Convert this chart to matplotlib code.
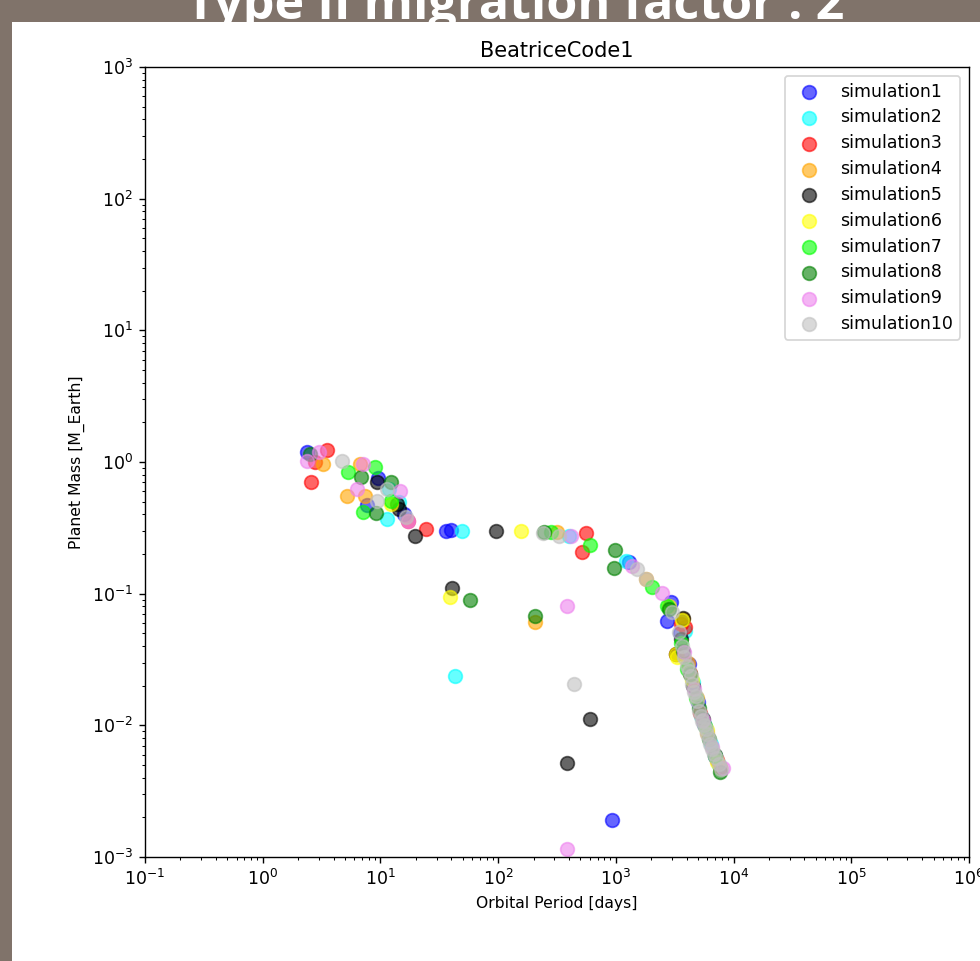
import matplotlib
matplotlib.use("Agg")
import matplotlib.pyplot as plt
from matplotlib.patches import Rectangle

# ---------------- data ----------------
labels = ["simulation1", "simulation2", "simulation3", "simulation4", "simulation5",
          "simulation6", "simulation7", "simulation8", "simulation9", "simulation10"]
colors = ["blue", "cyan", "red", "orange", "black",
          "yellow", "lime", "green", "violet", "silver"]

period_sim1 = [2.36, 9.45, 7.62, 16.0, 36.4, 40.1, 931, 1297, 2944, 2723,
               3500, 4186, 5000, 5610, 7000]
mass_sim1 = [1.19, 0.756, 0.472, 0.403, 0.30, 0.305, 0.00192, 0.174, 0.0867, 0.0622,
             0.050, 0.0293, 0.0150, 0.0103, 0.0058]

period_sim2 = [49.7, 43.4, 1223, 11.9, 14.5, 402, 11.3,
               3870, 4500, 5300, 6400, 7500]
mass_sim2 = [0.30, 0.0238, 0.177, 0.624, 0.497, 0.275, 0.37,
             0.0522, 0.0215, 0.0118, 0.0072, 0.0050]

period_sim3 = [3.49, 2.55, 2.76, 24.6, 560, 518, 3580, 17.0,
               3870, 3245, 4300, 5200, 7200]
mass_sim3 = [1.23, 0.705, 1.0, 0.31, 0.289, 0.208, 0.059, 0.357,
             0.056, 0.0349, 0.0250, 0.0125, 0.0055]

period_sim4 = [3.23, 5.16, 6.65, 7.33, 207, 318, 1807,
               3724, 4100, 4900, 6000, 7600]
mass_sim4 = [0.966, 0.552, 0.966, 0.552, 0.0611, 0.294, 0.129,
             0.0644, 0.0300, 0.0160, 0.0088, 0.0048]

period_sim5 = [9.27, 13.7, 14.5, 19.5, 96.5, 40.9, 386, 605,
               3245, 3724, 3600, 4500, 5500, 6900]
mass_sim5 = [0.705, 0.48, 0.44, 0.275, 0.30, 0.111, 0.0052, 0.0112,
             0.0349, 0.065, 0.045, 0.0200, 0.0112, 0.0060]

period_sim6 = [157, 39.3, 12.4, 2831,
               3650, 3245, 3300, 4400, 5900, 7300]
mass_sim6 = [0.30, 0.0946, 0.48, 0.0808,
             0.0633, 0.0349, 0.0330, 0.0220, 0.0092, 0.0053]

period_sim7 = [5.26, 8.91, 7.05, 12.4, 283, 605, 2032, 2723,
               3550, 4050, 4800, 5700, 7000]
mass_sim7 = [0.84, 0.916, 0.418, 0.506, 0.294, 0.235, 0.113, 0.0808,
             0.042, 0.0270, 0.0160, 0.0098, 0.0058]

period_sim8 = [2.50, 6.78, 12.4, 9.09, 58.1, 207, 247, 986, 968, 2831,
               3700, 4300, 5100, 6200, 7670]
mass_sim8 = [1.15, 0.769, 0.705, 0.41, 0.0897, 0.0679, 0.294, 0.215, 0.157, 0.0767,
             0.037, 0.0245, 0.0135, 0.0079, 0.00445]

period_sim9 = [2.36, 2.99, 7.05, 6.27, 14.8, 386, 386, 418, 1374, 2471, 17.0,
               3800, 4600, 5500, 6600, 8128]
mass_sim9 = [1.02, 1.19, 0.966, 0.624, 0.603, 0.0808, 0.00116, 0.275, 0.163, 0.101, 0.357,
             0.036, 0.0190, 0.0110, 0.0068, 0.00477]

period_sim10 = [4.68, 16.6, 9.27, 11.3, 443, 242, 330, 1807, 1517, 3005, 3443,
                3650, 3795, 4025, 4200, 4352, 4436, 4615, 4750, 4893, 5084, 5250,
                5395, 5600, 5835, 6000, 6185, 6350, 6560, 6800, 7093, 7450, 7818]
mass_sim10 = [1.02, 0.383, 0.506, 0.624, 0.0207, 0.289, 0.275, 0.129, 0.154, 0.0728, 0.0513,
              0.0402, 0.0331, 0.0283, 0.026, 0.0238, 0.0207, 0.0180, 0.0167, 0.0154, 0.0129, 0.0118,
              0.0108, 0.0101, 0.0094, 0.0086, 0.0079, 0.0072, 0.0066, 0.0061, 0.0056, 0.0051, 0.0047]

periods = [period_sim1, period_sim2, period_sim3, period_sim4, period_sim5,
           period_sim6, period_sim7, period_sim8, period_sim9, period_sim10]
masses = [mass_sim1, mass_sim2, mass_sim3, mass_sim4, mass_sim5,
          mass_sim6, mass_sim7, mass_sim8, mass_sim9, mass_sim10]

slide_title = "Type II migration factor : 2"
plot_title = "BeatriceCode1"
xlabel = "Orbital Period [days]"
ylabel = "Planet Mass [M_Earth]"

# ---------------- figure ----------------
DPI = 125
fig = plt.figure(figsize=(980 / DPI, 961 / DPI), dpi=DPI, facecolor="#80736a")

# slide title (cut at the top, descenders hidden by the white panel)
fig.text(515 / 980, 1 - 19 / 961, slide_title, ha="center", va="baseline",
         color="white", fontsize=29, fontweight="bold", family="Open Sans",
         zorder=-20)

# white slide panel
panel = Rectangle((12 / 980, 0), 1, 1 - 22 / 961, transform=fig.transFigure,
                  facecolor="white", edgecolor="none", zorder=-10)
fig.patches.append(panel)

ax = fig.add_axes([145 / 980, 1 - 857 / 961, (969 - 145) / 980, (857 - 67) / 961])
ax.set_zorder(5)
ax.set_facecolor("white")

for p, m, c, lab in zip(periods, masses, colors, labels):
    ax.scatter(p, m, s=62, color=c, alpha=0.6, label=lab)

ax.set_xscale("log")
ax.set_yscale("log")
ax.set_xlim(1e-1, 1e6)
ax.set_ylim(1e-3, 1e3)
ax.set_title(plot_title, fontsize=12)
ax.set_xlabel(xlabel, fontsize=9)
ax.set_ylabel(ylabel, fontsize=9)
ax.tick_params(labelsize=10)
ax.legend(loc="upper right", fontsize=10, labelspacing=0.45)

fig.savefig("out.png", dpi=DPI, facecolor=fig.get_facecolor())
